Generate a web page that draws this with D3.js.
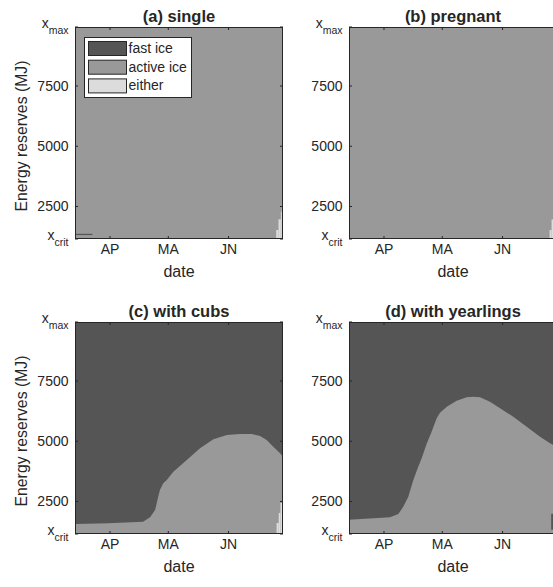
<!DOCTYPE html>
<html>
<head>
<meta charset="utf-8">
<script src="https://cdn.jsdelivr.net/npm/d3@7"></script>
<style>
  body { margin: 0; background: #fff; }
  text { font-family: "Liberation Sans", Arial, Helvetica, sans-serif; fill: #262626; }
</style>
</head>
<body>
<script>
// ---------- data ----------
const dayDomain = [73, 180];                 // day of year shown on x
const energyDomain = [1150, 9950];           // x_crit .. x_max (MJ)
const xTickDays = [91, 121, 152];
const xTickLabels = ["AP", "MA", "JN"];
const yTickValues = [1150, 2500, 5000, 7500, 9950];
const yTickLabels = ["x|crit", "2500", "5000", "7500", "x|max"];

const panelTitles = ["(a) single", "(b) pregnant", "(c) with cubs", "(d) with yearlings"];
const categories = ["fast ice", "active ice", "either"];

// boundary between active ice (below) and fast ice (above)
const cubsDays = [73, 90, 108, 111.6, 114.2, 115.8, 116.7, 118.4, 120.2, 123.6, 130.5, 137.3, 144.2, 151.1, 157.9, 163.9, 168.2, 171.6, 175, 178.5, 180];
const cubsBoundary = [1565, 1600, 1660, 1843, 2146, 2698, 2976, 3255, 3391, 3736, 4222, 4707, 5081, 5260, 5301, 5301, 5218, 5052, 4774, 4500, 4360];

const yearDays = [73, 94.1, 98.4, 100.9, 103.5, 106.1, 108.6, 110.4, 112.9, 115.5, 118.1, 119.8, 123.3, 128.4, 133.5, 136.9, 140.4, 145.5, 150.7, 157.5, 164.4, 171.3, 176.4, 180];
const yearBoundary = [1739, 1843, 1980, 2283, 2698, 3392, 3944, 4292, 4886, 5397, 5953, 6185, 6434, 6683, 6825, 6850, 6825, 6642, 6368, 6019, 5604, 5189, 4915, 4780];

// "either" columns: [day start, day end, top energy] (from x_crit up)
const singleEither = [[176.5, 177.7, 1524], [177.7, 178.9, 1968], [178.9, 179.4, 2283], [179.4, 180, 2657]];
const pregnantEither = [[176.2, 177.2, 1520], [177.2, 180, 1960]];
const cubsEither = [[176.7, 177.8, 1607], [177.8, 178.7, 2024], [178.7, 179.6, 2440], [179.6, 180, 2700]];
const yearEither = [];

// small fast-ice patches: [day start, day end, bottom energy, top energy]
const singleFast = [[73, 82, 1315, 1365]];
const pregnantFast = [];
const cubsFast = [];
const yearFast = [[177, 180, 1330, 1990]];

// ---------- style ----------
const colors = { "fast ice": "#555555", "active ice": "#999999", "either": "#dcdcdc" };
const axisColor = "#262626";

const W = 553, H = 587;
const pw = 208, ph = 212;
const panels = [
  { title: panelTitles[0], left: 75,  top: 27,  days: null, bound: null, either: singleEither, fast: singleFast, legend: true },
  { title: panelTitles[1], left: 349, top: 27,  days: null, bound: null, either: pregnantEither, fast: pregnantFast },
  { title: panelTitles[2], left: 75,  top: 322, days: cubsDays, bound: cubsBoundary, either: cubsEither, fast: cubsFast },
  { title: panelTitles[3], left: 349, top: 322, days: yearDays, bound: yearBoundary, either: yearEither, fast: yearFast }
];

const svg = d3.select("body").append("svg").attr("width", W).attr("height", H);
const defs = svg.append("defs");

panels.forEach((p, i) => {
  const x = d3.scaleLinear().domain(dayDomain).range([p.left, p.left + pw]);
  const y = d3.scaleLinear().domain(energyDomain).range([p.top + ph, p.top]);
  const cid = "clip" + i;
  defs.append("clipPath").attr("id", cid).append("rect")
    .attr("x", p.left).attr("y", p.top).attr("width", pw).attr("height", ph);
  const g = svg.append("g");
  const plot = g.append("g").attr("clip-path", `url(#${cid})`);

  // active ice background
  plot.append("rect")
    .attr("x", x(dayDomain[0])).attr("y", y(energyDomain[1]))
    .attr("width", x(dayDomain[1]) - x(dayDomain[0]))
    .attr("height", y(energyDomain[0]) - y(energyDomain[1]))
    .attr("fill", colors["active ice"]);

  // fast ice region above boundary
  if (p.days) {
    const pts = p.days.map((d, k) => [d, p.bound[k]]);
    plot.append("path").datum(pts)
      .attr("fill", colors["fast ice"])
      .attr("d", d3.area().x(d => x(d[0])).y0(y(energyDomain[1])).y1(d => y(d[1])));
  }
  // either columns
  plot.selectAll(".either").data(p.either).join("rect")
    .attr("x", d => x(d[0])).attr("width", d => x(d[1]) - x(d[0]))
    .attr("y", d => y(d[2])).attr("height", d => y(energyDomain[0]) - y(d[2]))
    .attr("fill", colors["either"]);
  // fast patches
  plot.selectAll(".fastp").data(p.fast).join("rect")
    .attr("x", d => x(d[0])).attr("width", d => x(d[1]) - x(d[0]))
    .attr("y", d => y(d[3])).attr("height", d => y(d[2]) - y(d[3]))
    .attr("fill", colors["fast ice"]);

  // ticks (inside, all four sides)
  const tl = 3;
  xTickDays.forEach(d => {
    g.append("line").attr("x1", x(d)).attr("x2", x(d)).attr("y1", p.top + ph).attr("y2", p.top + ph - tl).attr("stroke", axisColor);
    g.append("line").attr("x1", x(d)).attr("x2", x(d)).attr("y1", p.top).attr("y2", p.top + tl).attr("stroke", axisColor);
  });
  yTickValues.forEach(v => {
    g.append("line").attr("x1", p.left).attr("x2", p.left + tl).attr("y1", y(v)).attr("y2", y(v)).attr("stroke", axisColor);
    g.append("line").attr("x1", p.left + pw).attr("x2", p.left + pw - tl).attr("y1", y(v)).attr("y2", y(v)).attr("stroke", axisColor);
  });
  // frame
  g.append("rect").attr("x", p.left + 0.5).attr("y", p.top + 0.5).attr("width", pw - 1).attr("height", ph - 1)
    .attr("fill", "none").attr("stroke", axisColor).attr("stroke-width", 1);

  // x tick labels
  xTickDays.forEach((d, k) => {
    g.append("text").attr("x", x(d)).attr("y", p.top + ph + 15)
      .attr("text-anchor", "middle").attr("font-size", 14).text(xTickLabels[k]);
  });
  // y tick labels
  yTickValues.forEach((v, k) => {
    const lab = yTickLabels[k];
    if (lab.includes("|")) {
      const [base, sub] = lab.split("|");
      const t = g.append("text").attr("x", p.left - 6.5).attr("y", y(v) + 1)
        .attr("text-anchor", "end").attr("font-size", 14);
      t.append("tspan").text(base);
      t.append("tspan").attr("dy", 6).attr("font-size", 10.5).text(sub);
    } else {
      g.append("text").attr("x", p.left - 6.5).attr("y", y(v) + 5)
        .attr("text-anchor", "end").attr("font-size", 14).text(lab);
    }
  });
  // x label
  g.append("text").attr("x", p.left + pw / 2).attr("y", p.top + ph + 38)
    .attr("text-anchor", "middle").attr("font-size", 16).text("date");
  // y label on left panels
  if (p.left < 200) {
    g.append("text").attr("transform", `translate(27,${p.top + ph / 2 + 3}) rotate(-90)`)
      .attr("text-anchor", "middle").attr("font-size", 15.8).text("Energy reserves (MJ)");
  }
  // title
  g.append("text").attr("x", p.left + pw / 2).attr("y", p.top - 5)
    .attr("text-anchor", "middle").attr("font-size", 16.5).attr("font-weight", "bold").text(p.title);

  // legend
  if (p.legend) {
    const lx = p.left + 9, ly = p.top + 10;
    const lg = g.append("g");
    lg.append("rect").attr("x", lx + 0.5).attr("y", ly + 0.5).attr("width", 107).attr("height", 60)
      .attr("fill", "#fff").attr("stroke", axisColor).attr("stroke-width", 1);
    categories.forEach((c, k) => {
      const cy = ly + 11 + k * 18.7;
      lg.append("rect").attr("x", lx + 4.5).attr("y", cy - 6.5).attr("width", 38).attr("height", 14)
        .attr("fill", colors[c]).attr("stroke", axisColor).attr("stroke-width", 1);
      lg.append("text").attr("x", lx + 44.5).attr("y", cy + 5).attr("font-size", 14).text(c);
    });
  }
});
</script>
</body>
</html>
